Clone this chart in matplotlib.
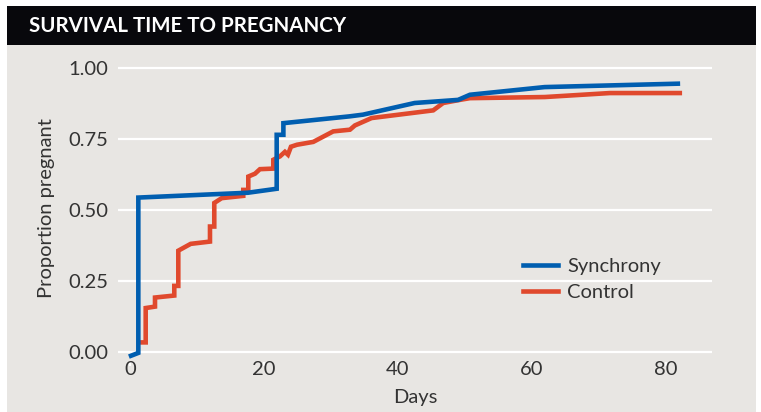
import matplotlib
matplotlib.use("Agg")
import matplotlib.pyplot as plt
from matplotlib.patches import Rectangle

# values
sync_days = [0.15, 1.24, 1.24, 17.6, 21.9, 21.9, 22.9, 22.9, 32.8, 34.8, 42.5, 49.0, 50.75, 61.9, 81.8]
sync_prop = [-0.014, -0.004, 0.543, 0.560, 0.574, 0.764, 0.764, 0.805, 0.829, 0.835, 0.876, 0.887, 0.905, 0.932, 0.944]

ctrl_days = [1.6, 2.34, 2.34, 3.73, 3.73, 6.61, 6.61, 7.21, 7.21, 9.06, 11.94, 11.94, 12.58, 12.58,
             13.69, 16.91, 16.91, 17.66, 17.66, 18.66, 19.40, 21.39, 21.39, 22.39, 23.13, 23.58, 24.03,
             24.93, 27.36, 30.34, 32.84, 33.58, 36.07, 45.27, 46.76, 49.25, 50.75, 61.94, 71.64, 82.09]
ctrl_prop = [0.033, 0.033, 0.154, 0.159, 0.191, 0.198, 0.232, 0.232, 0.356, 0.380, 0.388, 0.441, 0.441, 0.524,
             0.541, 0.549, 0.570, 0.570, 0.617, 0.627, 0.643, 0.645, 0.676, 0.688, 0.704, 0.694, 0.722,
             0.729, 0.739, 0.776, 0.782, 0.797, 0.823, 0.850, 0.876, 0.887, 0.893, 0.897, 0.911, 0.911]

x_ticks = [0, 20, 40, 60, 80]
y_ticks = [0.0, 0.25, 0.5, 0.75, 1.0]

BG = "#e8e6e3"
BLUE = "#005eb0"
RED = "#e0492d"
TXT = "#333333"
FONT = "Lato"

W, H = 761, 412
fig = plt.figure(figsize=(W / 100, H / 100), dpi=100)
fig.patch.set_facecolor("white")

# grey panel and black title bar
fig.patches.append(Rectangle((7 / W, 0), 749 / W, (H - 45) / H, transform=fig.transFigure,
                             facecolor=BG, edgecolor="none", zorder=0))
fig.patches.append(Rectangle((7 / W, (H - 45) / H), 749 / W, 39 / H, transform=fig.transFigure,
                             facecolor="#08080c", edgecolor="none", zorder=0))
fig.text(29 / W, (H - 25.5) / H, "SURVIVAL TIME TO PREGNANCY", color="white", fontsize=14.8,
         fontweight="bold", family=FONT, ha="left", va="center")

ax = fig.add_axes([118.3 / W, (H - 362) / H, (712 - 118.3) / W, (362 - 55) / H])
ax.set_zorder(2)
ax.set_facecolor(BG)
for s in ax.spines.values():
    s.set_visible(False)

ax.plot(sync_days, sync_prop, color=BLUE, lw=3.3, label="Synchrony", zorder=3, solid_joinstyle="miter")
ax.plot(ctrl_days, ctrl_prop, color=RED, lw=3.3, label="Control", zorder=2, solid_joinstyle="miter")

ax.set_xlim(-1.75, 86.9)
ax.set_ylim(-0.036, 1.045)
ax.set_xticks(x_ticks)
ax.set_yticks(y_ticks)
ax.set_yticklabels(["%.2f" % v for v in y_ticks])
ax.grid(axis="y", color="white", lw=1.6, zorder=1)
ax.tick_params(axis="y", length=0, pad=7, labelsize=14.5, labelcolor=TXT)
ax.tick_params(axis="x", length=3, width=1.5, color="white", pad=-4, labelsize=14.5, labelcolor=TXT)
for lab in ax.get_xticklabels() + ax.get_yticklabels():
    lab.set_family(FONT)

ax.set_xlabel("Days", fontsize=14.5, color=TXT, family=FONT, labelpad=8)
ax.set_ylabel("Proportion pregnant", fontsize=14.5, color=TXT, family=FONT, labelpad=10)

leg = ax.legend(loc="upper left", bbox_to_anchor=(0.6817, 0.34), frameon=False, borderpad=0,
                borderaxespad=0, handlelength=1.75, handletextpad=0.45, labelspacing=0.45,
                prop={"family": FONT, "size": 14.5})
for t in leg.get_texts():
    t.set_color(TXT)

fig.savefig("out.png", dpi=100, facecolor=fig.get_facecolor())
